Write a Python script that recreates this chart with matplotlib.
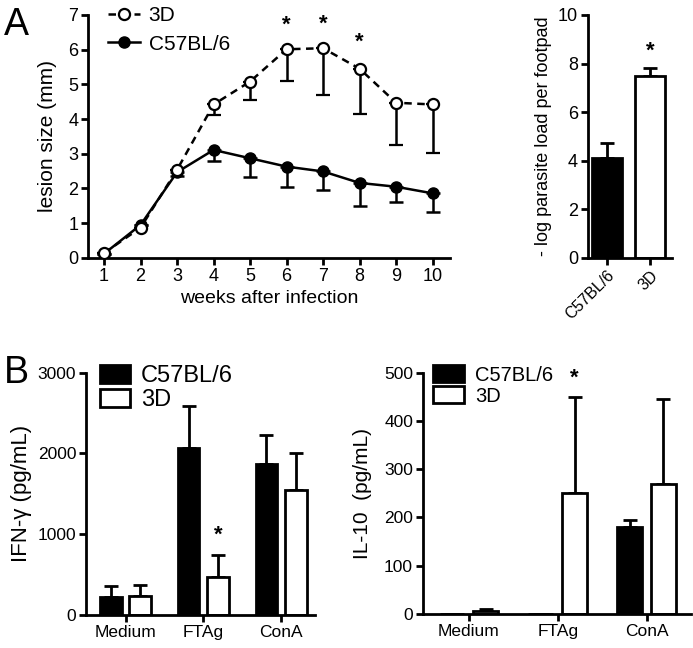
import matplotlib
matplotlib.use("Agg")
import matplotlib.pyplot as plt
import numpy as np
from matplotlib.lines import Line2D
from matplotlib.patches import Patch

plt.rcParams['font.family'] = ['Liberation Sans', 'DejaVu Sans']

# --- data ---
weeks = [1, 2, 3, 4, 5, 6, 7, 8, 9, 10]
lesion_3d = [0.14, 0.87, 2.54, 4.42, 5.08, 6.01, 6.04, 5.45, 4.47, 4.42]
lesion_3d_err = [0.0, 0.0, 0.0, 0.3, 0.53, 0.91, 1.34, 1.31, 1.22, 1.39]
lesion_b6 = [0.12, 0.95, 2.47, 3.11, 2.87, 2.63, 2.49, 2.16, 2.05, 1.86]
lesion_b6_err = [0.0, 0.0, 0.1, 0.33, 0.54, 0.58, 0.53, 0.66, 0.45, 0.53]
sig_weeks = [6, 7, 8]
sig_weeks_y = [6.7, 6.72, 6.2]

strains = ['C57BL/6', '3D']
parasite_load = [4.1, 7.47]
parasite_err = [0.62, 0.33]

stimuli = ['Medium', 'FTAg', 'ConA']
ifng_b6 = [227, 2066, 1868]
ifng_b6_err = [133, 517, 363]
ifng_3d = [236, 474, 1550]
ifng_3d_err = [136, 266, 454]

il10_b6 = [0, 0, 181]
il10_b6_err = [0, 0, 14]
il10_3d = [7, 251, 269]
il10_3d_err = [4, 199, 176]

fig = plt.figure(figsize=(6.93, 6.48), dpi=100)


def style(ax, lw=2.0):
    for s in ['top', 'right']:
        ax.spines[s].set_visible(False)
    for s in ['left', 'bottom']:
        ax.spines[s].set_linewidth(lw)
    ax.tick_params(width=lw, length=5, direction='out', pad=2)


# --- A: lesion size ---
ax1 = fig.add_axes([0.127, 0.602, 0.522, 0.375])
ax1.errorbar(weeks, lesion_3d, yerr=[lesion_3d_err, [0] * 10], color='black', ls=(0, (3, 2.2)),
             lw=1.8, marker='o', ms=8, mfc='white', mec='black', mew=1.6,
             capsize=5, capthick=1.8, elinewidth=1.8, zorder=3)
ax1.errorbar(weeks, lesion_b6, yerr=[lesion_b6_err, [0] * 10], color='black', ls='-',
             lw=1.8, marker='o', ms=8, mfc='black', mec='black',
             capsize=5, capthick=1.8, elinewidth=1.8, zorder=2)
for w, y in zip(sig_weeks, sig_weeks_y):
    ax1.text(w, y, '*', ha='center', va='center', fontsize=16, fontweight='bold')
ax1.set_xlim(0.56, 10.47)
ax1.set_ylim(0, 7)
ax1.set_xticks(weeks)
ax1.set_yticks(range(0, 8))
ax1.tick_params(labelsize=13)
ax1.set_ylabel('lesion size (mm)', fontsize=15, labelpad=8)
ax1.set_xlabel('weeks after infection', fontsize=14, labelpad=4)
style(ax1)
h = [Line2D([], [], color='black', ls=(0, (3, 2.2)), lw=1.8, marker='o', ms=8, mfc='white', mew=1.6),
     Line2D([], [], color='black', ls='-', lw=1.8, marker='o', ms=8, mfc='black')]
ax1.legend(h, ['3D', 'C57BL/6'], loc='upper left', bbox_to_anchor=(0.055, 1.035), frameon=False,
           fontsize=15, handlelength=1.55, handletextpad=0.4, labelspacing=0.45,
           borderpad=0, borderaxespad=0)

# --- A: parasite load ---
ax2 = fig.add_axes([0.848, 0.602, 0.121, 0.375])
x2 = np.arange(len(strains))
ax2.bar(x2, parasite_load, width=0.72, color=['black', 'white'], edgecolor='black', lw=2, zorder=2)
ax2.errorbar(x2, parasite_load, yerr=[[0, 0], parasite_err], fmt='none', ecolor='black',
             capsize=5, capthick=2, elinewidth=2, zorder=1)
ax2.text(1, 8.5, '*', ha='center', va='center', fontsize=16, fontweight='bold')
ax2.set_xlim(-0.45, 1.5)
ax2.set_ylim(0, 10)
ax2.set_yticks(range(0, 11, 2))
ax2.set_xticks(x2)
ax2.set_xticklabels(strains, rotation=45, ha='right', rotation_mode='anchor', fontsize=11.5)
ax2.tick_params(axis='y', labelsize=13)
ax2.set_ylabel('- log parasite load per footpad', fontsize=13, labelpad=4)
style(ax2)

# --- B ---
def group_bars(ax, b6, b6e, d3, d3e, leg_x, leg_fs):
    x = np.arange(len(stimuli))
    off = 0.19
    ax.bar(x - off, b6, width=0.28, color='black', edgecolor='black', lw=2, zorder=2)
    ax.bar(x + off, d3, width=0.28, color='white', edgecolor='black', lw=2, zorder=2)
    ax.errorbar(x - off, b6, yerr=[[0] * 3, b6e], fmt='none', ecolor='black',
                capsize=5, capthick=2, elinewidth=2, zorder=1)
    ax.errorbar(x + off, d3, yerr=[[0] * 3, d3e], fmt='none', ecolor='black',
                capsize=5, capthick=2, elinewidth=2, zorder=1)
    ax.set_xticks(x)
    ax.set_xticklabels(stimuli, fontsize=12.5)
    ax.tick_params(axis='y', labelsize=12.5)
    style(ax)
    hh = [Patch(facecolor='black', edgecolor='black', lw=2),
          Patch(facecolor='white', edgecolor='black', lw=2)]
    k = 17.0 / leg_fs
    ax.legend(hh, strains, loc='upper left', bbox_to_anchor=(leg_x, 1.03), frameon=False,
              fontsize=leg_fs, handlelength=1.3 * k, handleheight=0.75 * k,
              handletextpad=0.45 * k, labelspacing=0.08 * k, borderpad=0, borderaxespad=0)
    return x


ax3 = fig.add_axes([0.124, 0.051, 0.330, 0.374])
group_bars(ax3, ifng_b6, ifng_b6_err, ifng_3d, ifng_3d_err, 0.06, 17)
ax3.text(1 + 0.19, 990, '*', ha='center', va='center', fontsize=16, fontweight='bold')
ax3.set_xlim(-0.51, 2.43)
ax3.set_ylim(0, 3000)
ax3.set_yticks([0, 1000, 2000, 3000])
ax3.set_ylabel('IFN-γ (pg/mL)', fontsize=16, labelpad=4)

ax4 = fig.add_axes([0.61, 0.0525, 0.387, 0.3725])
group_bars(ax4, il10_b6, il10_b6_err, il10_3d, il10_3d_err, 0.04, 14.5)
ax4.text(1 + 0.19, 488, '*', ha='center', va='center', fontsize=16, fontweight='bold')
ax4.set_xlim(-0.52, 2.5)
ax4.set_ylim(0, 500)
ax4.set_yticks(range(0, 501, 100))
ax4.set_ylabel('IL-10  (pg/mL)', fontsize=15, labelpad=9)

fig.text(0.005, 0.962, 'A', fontsize=27, va='center', ha='left')
fig.text(0.005, 0.424, 'B', fontsize=27, va='center', ha='left')

fig.savefig('out.png', dpi=100)
